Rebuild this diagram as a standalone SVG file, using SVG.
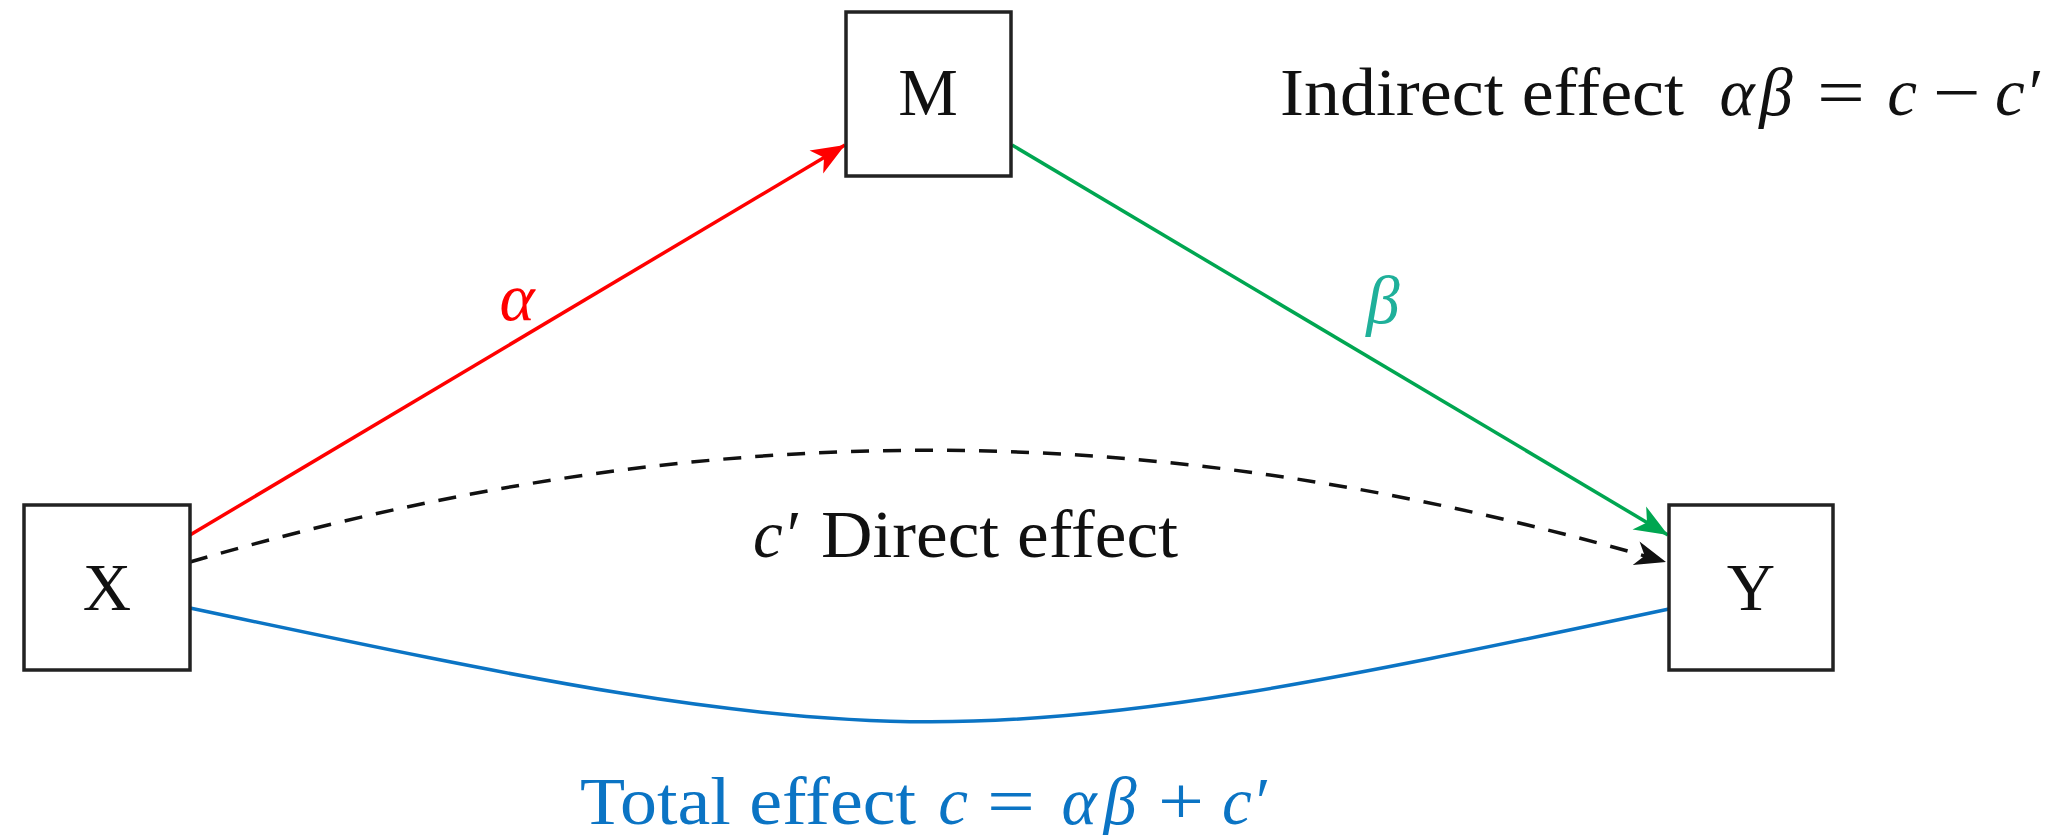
<svg xmlns="http://www.w3.org/2000/svg" width="2059" height="835" viewBox="0 0 2059 835">
<style>
.box{fill:#fff;stroke:#222;stroke-width:3.5}
.lbl{font-family:"Liberation Serif",serif;font-size:67px;fill:#111}
.m{font-style:italic}
.c{text-anchor:middle}
.bl{fill:#0b74c4}
.red{stroke:#ff0000;stroke-width:3.5;fill:none}
.green{stroke:#00a651;stroke-width:3.5;fill:none}
.dash{stroke:#111;stroke-width:3.5;fill:none;stroke-dasharray:18 14}
.blue{stroke:#0b74c4;stroke-width:3.5;fill:none}
</style>
<defs>
<marker id="ar" markerUnits="userSpaceOnUse" markerWidth="40" markerHeight="40" viewBox="-32 -16 36 32" refX="0" refY="0" orient="auto">
<path d="M0,0 L-30,-12 L-22,0 L-30,12 Z" fill="#ff0000"/>
</marker>
<marker id="ag" markerUnits="userSpaceOnUse" markerWidth="40" markerHeight="40" viewBox="-32 -16 36 32" refX="0" refY="0" orient="auto">
<path d="M0,0 L-30,-12 L-22,0 L-30,12 Z" fill="#00a651"/>
</marker>
<marker id="ak" markerUnits="userSpaceOnUse" markerWidth="40" markerHeight="40" viewBox="-32 -16 36 32" refX="0" refY="0" orient="auto">
<path d="M0,0 L-28,-11 L-20,0 L-28,11 Z" fill="#111"/>
</marker>
</defs>
<rect width="2059" height="835" fill="#fff"/>
<g id="connectors">
<line class="red" x1="190" y1="535" x2="845" y2="145" marker-end="url(#ar)"/>
<line class="green" x1="1012" y1="145" x2="1668" y2="535" marker-end="url(#ag)"/>
<path class="dash" d="M190,562 C700,413 1155,413 1666,562" marker-end="url(#ak)"/>
<path class="blue" d="M190,608 C900,759 959,760 1669,609"/>
</g>
<g id="node-M">
<rect class="box" x="846" y="12" width="165" height="164"/>
<text class="lbl c" x="928" y="115">M</text>
</g>
<g id="node-X">
<rect class="box" x="24" y="505" width="166" height="165"/>
<text class="lbl c" x="107" y="610">X</text>
</g>
<g id="node-Y">
<rect class="box" x="1669" y="505" width="164" height="165"/>
<text class="lbl c" x="1751" y="610">Y</text>
</g>
<g id="labels">
<text class="lbl m c" x="517" y="320" style="fill:#ff0000">α</text>
<text class="lbl m c" x="1383" y="323" style="fill:#1fb09a">β</text>
<g id="indirect">
<text class="lbl" x="1280" y="115" textLength="404" lengthAdjust="spacingAndGlyphs">Indirect effect</text>
<text class="lbl m c" x="1737" y="115">α</text>
<text class="lbl m c" x="1776" y="115">β</text>
<text class="lbl" x="1817" y="115" textLength="48" lengthAdjust="spacingAndGlyphs">=</text>
<text class="lbl m c" x="1902" y="115">c</text>
<text class="lbl" x="1933" y="115" textLength="48" lengthAdjust="spacingAndGlyphs">−</text>
<text class="lbl m" x="1995" y="115">c′</text>
</g>
<g id="direct">
<text class="lbl m" x="753" y="557">c′</text>
<text class="lbl" x="821" y="557" textLength="357" lengthAdjust="spacingAndGlyphs">Direct effect</text>
</g>
<g id="total">
<text class="lbl bl" x="580" y="824" textLength="336" lengthAdjust="spacingAndGlyphs">Total effect</text>
<text class="lbl bl m c" x="953" y="824">c</text>
<text class="lbl bl" x="987" y="824" textLength="48" lengthAdjust="spacingAndGlyphs">=</text>
<text class="lbl bl m c" x="1079" y="824">α</text>
<text class="lbl bl m c" x="1120" y="824">β</text>
<text class="lbl bl" x="1158" y="824" textLength="46" lengthAdjust="spacingAndGlyphs">+</text>
<text class="lbl bl m" x="1222" y="824">c′</text>
</g>
</g>
</svg>
